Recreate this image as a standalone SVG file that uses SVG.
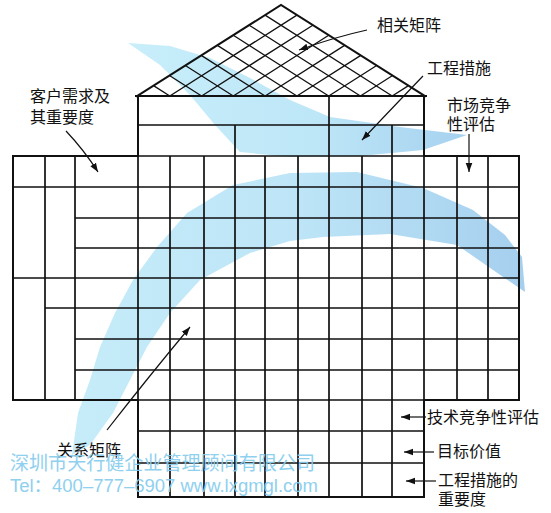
<svg xmlns="http://www.w3.org/2000/svg" width="551" height="513" viewBox="0 0 551 513">
<style>
.ln{stroke:#111;stroke-width:1.7;fill:none;stroke-linecap:square}
.ed{stroke:#111;stroke-width:2;fill:none;stroke-linecap:square}
.rf{stroke:#111;stroke-width:1.3;fill:none}
.lbl{font-family:"Noto Sans CJK SC","Noto Sans CJK JP",sans-serif;font-size:16px;fill:#111}
.arr{stroke:#111;stroke-width:1.2;fill:none;marker-end:url(#ah)}
.wm{fill:#86cdee}
</style>
<defs>
<marker id="ah" markerUnits="userSpaceOnUse" markerWidth="10" markerHeight="8" refX="9" refY="4" orient="auto"><path d="M0,0.7 L9,4 L0,7.3 Z" fill="#111"/></marker>
<linearGradient id="gw" gradientUnits="userSpaceOnUse" x1="130" y1="0" x2="470" y2="0"><stop offset="0" stop-color="#c8eefa"/><stop offset="0.55" stop-color="#bde6f7"/><stop offset="1" stop-color="#a6d1ef"/></linearGradient>
<linearGradient id="gc" gradientUnits="userSpaceOnUse" x1="72" y1="0" x2="525" y2="0"><stop offset="0" stop-color="#c6ecf9"/><stop offset="0.5" stop-color="#bde5f7"/><stop offset="1" stop-color="#a5cfee"/></linearGradient>
</defs>
<rect width="551" height="513" fill="#fff"/>
<g id="watermark-swoosh">
<path fill="url(#gw)" d="M128,43 L170,46 L210,58 L250,78 L290,100 L330,117 L400,127 L467,135 L423,150 L360,156 L290,157 L240,152 L215,125 L190,95 L160,65 Z"/>
<path fill="url(#gc)" d="M72,455 L78,413 L90,380 L100,347 L115,313 L133,280 L157,247 L187,213 L233,185 L290,173 L357,172 L423,188 L473,210 L505,235 L522,257 L525,292 L457,245 L390,234 L323,237 L290,241 L250,253 L200,280 L170,313 L147,347 L130,380 L113,413 L90,445 Z"/>
</g>
<g id="roof">
<path class="ed" d="M137,96 L281,5 L425,96"/>
<path class="rf" d="M169.8,96 L296.9,15.1 M201.6,96 L312.8,25.2 M233.3,96 L328.7,35.3 M265.1,96 L344.6,45.4 M296.9,96 L360.4,55.6 M328.7,96 L376.3,65.7 M360.4,96 L392.2,75.8 M392.2,96 L408.1,85.9
M169.8,96 L153.9,85.9 M201.6,96 L169.8,75.8 M233.3,96 L185.7,65.7 M265.1,96 L201.6,55.6 M296.9,96 L217.4,45.4 M328.7,96 L233.3,35.3 M360.4,96 L249.2,25.2 M392.2,96 L265.1,15.1"/>
</g>
<g id="engineering-measures">
<path class="ed" d="M136,96 L426,96 M138,96 L138,156 M424,96 L424,156"/>
<path class="ln" d="M138,125 L424,125 M329,96 L329,156 M235,125 L235,156 M392,125 L392,156"/>
</g>
<g id="customer-requirements">
<path class="ed" d="M13,156 L138,156 M13,156 L13,400 M13,400 L138,400"/>
<path class="ln" d="M45,156 L45,400 M75,156 L75,400 M13,187 L138,187 M13,278 L138,278 M45,308 L138,308 M75,218 L138,218 M75,248 L138,248 M75,339 L138,339 M75,370 L138,370"/>
</g>
<g id="relationship-matrix">
<path class="ln" d="M138,156 L138,400 M170,156 L170,400 M204,156 L204,400 M235,156 L235,400 M265,156 L265,400 M298,156 L298,400 M329,156 L329,400 M362,156 L362,400 M392,156 L392,400 M424,156 L424,400
M138,156 L424,156 M138,187 L424,187 M138,218 L424,218 M138,248 L424,248 M138,278 L424,278 M138,308 L424,308 M138,339 L424,339 M138,370 L424,370 M138,400 L424,400"/>
</g>
<g id="market-evaluation">
<path class="ln" d="M457,156 L457,400 M488,156 L488,400 M424,187 L519,187 M424,218 L519,218 M424,248 L519,248 M424,278 L519,278 M424,308 L519,308 M424,339 L519,339 M424,370 L519,370"/>
<path class="ed" d="M424,156 L519,156 L519,400 L424,400"/>
</g>
<g id="evaluation-rows">
<path class="ln" d="M170,400 L170,497 M204,400 L204,497 M235,400 L235,497 M265,400 L265,497 M298,400 L298,497 M329,400 L329,497 M362,400 L362,497 M392,400 L392,497 M138,431 L424,431 M138,463 L424,463"/>
<path class="ed" d="M138,400 L138,497 L424,497 L424,400"/>
</g>
<g id="connectors">
<path class="arr" d="M367,30 Q335,37 299,50"/>
<path class="arr" d="M423,76 Q398,102 362,140"/>
<path class="arr" d="M469,134 L469,172"/>
<path class="arr" d="M66,131 Q84,150 98,172"/>
<path class="arr" d="M107,430 Q150,375 190,327"/>
<path class="arr" d="M426,417 L401,417"/>
<path class="arr" d="M434,452 L404,452"/>
<path class="arr" d="M436,481 L406,481"/>
</g>
<g id="label-correlation"><text class="lbl" x="377" y="30.5">相关矩阵</text></g>
<g id="label-engineering"><text class="lbl" x="427" y="74">工程措施</text></g>
<g id="label-market"><text class="lbl" x="447" y="110.5">市场竞争</text><text class="lbl" x="447" y="130">性评估</text></g>
<g id="label-customer"><text class="lbl" x="30" y="102">客户需求及</text><text class="lbl" x="30" y="122.5">其重要度</text></g>
<g id="label-relationship"><text class="lbl" x="57" y="456">关系矩阵</text></g>
<g id="label-tech"><text class="lbl" x="427" y="423">技术竞争性评估</text></g>
<g id="label-target"><text class="lbl" x="437" y="457">目标价值</text></g>
<g id="label-importance"><text class="lbl" x="438" y="486">工程措施的</text><text class="lbl" x="438" y="505">重要度</text></g>
<g id="watermark-text" opacity="0.92">
<text class="wm" x="10" y="470" font-family="'Noto Sans CJK SC', sans-serif" font-size="19.5" textLength="305" lengthAdjust="spacingAndGlyphs">深圳市天行健企业管理顾问有限公司</text>
<text class="wm" x="10" y="492" font-family="'Liberation Sans', 'Noto Sans CJK SC', sans-serif" font-size="18.3" textLength="308" lengthAdjust="spacingAndGlyphs">Tel：400–777–6907 www.lxgmgl.com</text>
</g>
</svg>
